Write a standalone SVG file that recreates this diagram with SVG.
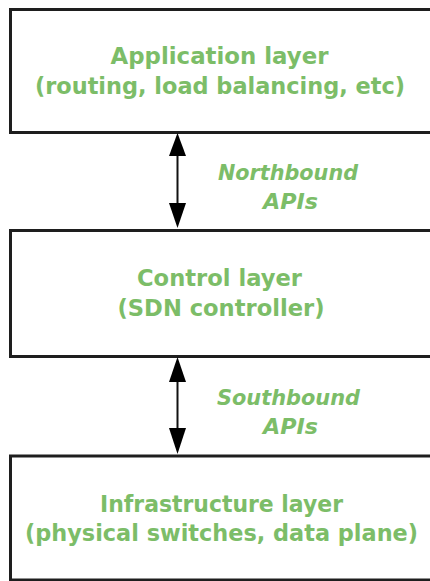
<svg xmlns="http://www.w3.org/2000/svg" width="430" height="581" viewBox="0 0 430 581">
<style>
.box{fill:#fff;stroke:#1e1e1e;stroke-width:3}
.t{font-family:"DejaVu Sans",Verdana,sans-serif;font-weight:bold;font-size:23px;fill:#7cbd68;text-anchor:middle}
.l{font-family:"DejaVu Sans",Verdana,sans-serif;font-weight:bold;font-style:italic;font-size:21px;fill:#7cbd68;text-anchor:middle}
.sh{stroke:#111;stroke-width:2;fill:none}
.hd{fill:#000}
</style>
<rect width="430" height="581" fill="#fff"/>
<g id="app">
<rect class="box" x="10.5" y="9.5" width="430" height="123"/>
<text class="t" x="219.5" y="64" textLength="218" lengthAdjust="spacingAndGlyphs">Application layer</text>
<text class="t" x="220" y="94" textLength="370" lengthAdjust="spacingAndGlyphs">(routing, load balancing, etc)</text>
</g>
<g id="control">
<rect class="box" x="10.5" y="230.5" width="430" height="126"/>
<text class="t" x="219.5" y="286" textLength="165" lengthAdjust="spacingAndGlyphs">Control layer</text>
<text class="t" x="221" y="316" textLength="207" lengthAdjust="spacingAndGlyphs">(SDN controller)</text>
</g>
<g id="infra">
<rect class="box" x="10.5" y="456" width="430" height="124"/>
<text class="t" x="221.5" y="512" textLength="243" lengthAdjust="spacingAndGlyphs">Infrastructure layer</text>
<text class="t" x="221.5" y="541" textLength="393" lengthAdjust="spacingAndGlyphs">(physical switches, data plane)</text>
</g>
<g id="connectors">
<g id="north">
<line class="sh" x1="177.5" y1="150" x2="177.5" y2="205"/>
<polygon class="hd" points="177.5,133 169,156 186,156"/>
<polygon class="hd" points="177.5,228 169,203 186,203"/>
<text class="l" x="288" y="180" textLength="140" lengthAdjust="spacingAndGlyphs">Northbound</text>
<text class="l" x="290.5" y="209" textLength="55" lengthAdjust="spacingAndGlyphs">APIs</text>
</g>
<g id="south">
<line class="sh" x1="177.5" y1="375" x2="177.5" y2="432"/>
<polygon class="hd" points="177.5,357 169,382 186,382"/>
<polygon class="hd" points="177.5,454 169,428 186,428"/>
<text class="l" x="288.5" y="405" textLength="143" lengthAdjust="spacingAndGlyphs">Southbound</text>
<text class="l" x="290.5" y="434" textLength="55" lengthAdjust="spacingAndGlyphs">APIs</text>
</g>
</g>
</svg>
